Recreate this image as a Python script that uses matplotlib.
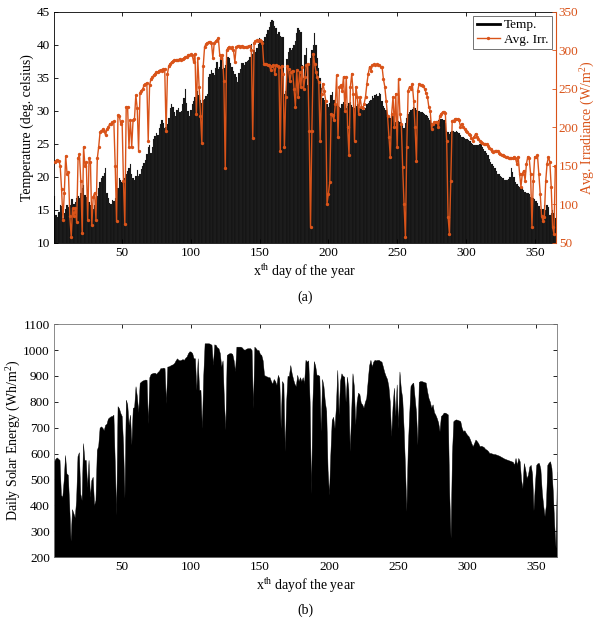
import numpy as np
import matplotlib
matplotlib.use("Agg")
import matplotlib.pyplot as plt
from matplotlib.lines import Line2D

plt.rcParams["font.family"] = ["Liberation Serif", "DejaVu Serif"]
plt.rcParams["mathtext.fontset"] = "custom"
plt.rcParams["mathtext.rm"] = "Liberation Serif"
plt.rcParams["mathtext.it"] = "Liberation Serif:italic"

days = np.arange(1, 366)

# daily mean temperature (deg C)
temp = [
    17.1, 14.2, 14.0, 14.7, 15.8, 15.6, 13.8, 14.5, 15.2, 15.8,
    15.5, 15.8, 16.6, 16.6, 15.9, 16.2, 16.8, 17.1, 16.8, 17.5,
    18.3, 18.8, 17.3, 17.0, 16.4, 16.2, 15.8, 15.6, 15.2, 15.8,
    16.2, 17.1, 18.3, 19.3, 19.8, 20.1, 20.6, 21.3, 17.5, 16.8,
    16.0, 15.9, 16.5, 16.4, 16.8, 17.4, 18.4, 19.9, 19.5, 19.2,
    18.9, 19.8, 20.4, 20.9, 21.4, 22.0, 20.5, 19.9, 19.6, 20.2,
    21.0, 20.1, 20.5, 21.2, 21.6, 22.1, 22.6, 23.5, 24.6, 24.8,
    23.6, 24.5, 25.7, 26.2, 26.7, 26.4, 27.4, 28.0, 28.7, 28.2,
    27.4, 27.6, 28.0, 29.0, 30.5, 31.0, 30.6, 29.8, 29.3, 30.2,
    30.4, 29.8, 30.0, 31.0, 32.0, 33.4, 31.2, 30.0, 29.3, 30.2,
    31.0, 31.5, 32.1, 32.5, 33.1, 32.4, 31.6, 31.2, 31.6, 31.8,
    32.2, 32.6, 35.2, 35.6, 36.2, 35.8, 35.5, 36.5, 37.4, 36.4,
    36.7, 37.9, 36.3, 36.5, 37.0, 37.6, 38.2, 38.0, 37.2, 36.6,
    36.0, 35.6, 35.2, 34.4, 35.8, 36.4, 37.2, 37.3, 37.0, 37.4,
    37.6, 37.8, 38.2, 40.2, 38.7, 39.2, 39.0, 39.6, 40.2, 41.0,
    40.5, 40.0, 40.6, 41.2, 41.6, 42.2, 42.7, 43.5, 43.8, 43.6,
    42.9, 42.5, 41.7, 41.9, 41.4, 41.2, 41.2, 32.6, 33.0, 37.9,
    39.0, 39.5, 39.2, 39.6, 40.0, 40.6, 41.8, 42.5, 42.3, 42.0,
    37.0, 35.0, 38.5, 39.5, 34.0, 37.0, 38.0, 39.2, 40.0, 41.8,
    40.0, 38.0, 36.5, 35.0, 33.5, 32.0, 31.6, 31.3, 31.0, 30.6,
    31.2, 32.4, 32.9, 31.6, 31.2, 31.0, 30.7, 30.6, 30.5, 31.0,
    31.4, 31.0, 30.5, 30.8, 31.2, 31.4, 30.9, 30.6, 30.5, 30.8,
    31.0, 30.7, 30.5, 30.3, 30.1, 30.1, 30.5, 31.0, 31.2, 31.5,
    31.7, 32.2, 32.0, 32.4, 32.6, 32.3, 32.7, 32.5, 31.5, 30.8,
    30.4, 30.1, 29.6, 29.2, 28.9, 29.1, 29.2, 28.8, 28.4, 28.6,
    28.5, 28.3, 28.1, 27.9, 27.4, 28.2, 29.0, 29.5, 29.8, 30.1,
    30.3, 30.6, 30.4, 30.1, 30.2, 30.0, 29.9, 29.8, 29.7, 29.5,
    29.4, 29.2, 29.0, 28.6, 28.2, 28.1, 28.0, 28.2, 28.4, 28.6,
    28.7, 28.8, 28.8, 28.6, 28.2, 27.0, 26.8, 26.5, 26.8, 27.0,
    26.9, 26.8, 26.9, 26.8, 26.6, 26.4, 26.1, 26.0, 25.9, 25.8,
    25.7, 25.6, 25.4, 25.2, 25.0, 24.9, 24.8, 24.8, 24.9, 25.0,
    25.0, 24.6, 24.3, 24.0, 23.6, 23.3, 22.8, 22.3, 22.0, 21.6,
    21.3, 20.9, 20.5, 20.4, 20.2, 20.0, 19.8, 19.6, 19.5, 19.6,
    19.7, 20.0, 21.3, 20.8, 20.0, 19.3, 19.0, 18.6, 18.5, 18.3,
    18.3, 18.0, 17.8, 17.6, 17.5, 17.4, 17.0, 16.8, 16.8, 16.6,
    16.4, 16.0, 15.6, 15.2, 14.9, 15.2, 15.8, 15.0, 15.8, 15.4,
    14.3, 14.5, 15.0, 14.5, 13.8,
]

# average irradiance (W/m^2)
irr = [
    155, 157, 158, 157, 150, 120, 80, 115, 163, 140,
    142, 85, 58, 95, 85, 95, 77, 160, 165, 130,
    63, 175, 150, 155, 80, 160, 155, 73, 110, 115,
    80, 160, 175, 194, 195, 198, 195, 190, 198, 200,
    205, 205, 207, 208, 150, 78, 216, 215, 205, 209,
    130, 75, 227, 227, 175, 210, 175, 210, 211, 242,
    225, 170, 245, 248, 250, 255, 256, 258, 183, 255,
    263, 265, 268, 270, 272, 272, 274, 275, 274, 276,
    276, 196, 270, 280, 283, 285, 286, 287, 287, 288,
    288, 289, 288, 289, 290, 291, 292, 294, 294, 295,
    294, 285, 296, 218, 290, 253, 215, 180, 280, 305,
    308, 310, 311, 311, 310, 290, 310, 312, 313, 316,
    294, 290, 294, 260, 147, 300, 303, 305, 303, 304,
    300, 285, 305, 306, 306, 305, 306, 305, 304, 305,
    305, 306, 306, 300, 186, 310, 312, 313, 312, 314,
    312, 310, 283, 282, 282, 281, 281, 275, 280, 281,
    270, 281, 280, 278, 170, 280, 270, 175, 240, 280,
    276, 260, 272, 274, 250, 227, 275, 240, 272, 253,
    279, 250, 266, 281, 283, 196, 71, 196, 296, 283,
    272, 265, 259, 183, 244, 257, 248, 235, 101, 114,
    129, 218, 216, 210, 230, 268, 188, 253, 255, 248,
    266, 222, 266, 200, 164, 253, 270, 244, 183, 253,
    240, 218, 240, 227, 225, 231, 240, 257, 270, 279,
    274, 281, 282, 281, 282, 281, 281, 279, 279, 263,
    253, 235, 215, 188, 162, 218, 240, 200, 244, 175,
    263, 218, 205, 149, 100, 58, 175, 248, 253, 250,
    257, 235, 200, 157, 248, 257, 255, 255, 254, 250,
    245, 240, 227, 222, 198, 205, 207, 207, 207, 200,
    215, 218, 220, 220, 219, 183, 84, 62, 131, 209,
    209, 211, 211, 211, 210, 201, 205, 200, 198, 196,
    194, 192, 190, 186, 183, 188, 192, 188, 185, 183,
    181, 180, 179, 179, 178, 176, 174, 172, 170, 168,
    169, 170, 170, 167, 165, 164, 164, 163, 162, 162,
    161, 160, 160, 160, 162, 160, 153, 162, 140, 123,
    140, 144, 131, 153, 162, 160, 140, 71, 131, 162,
    162, 164, 140, 114, 85, 79, 84, 130, 153, 162,
    155, 123, 71, 62, 150,
]

# daily solar energy (Wh/m^2)
energy = [
    570, 580, 585, 580, 575, 440, 432, 497, 594, 523,
    518, 400, 262, 385, 370, 353, 420, 590, 605, 445,
    420, 640, 575, 575, 470, 575, 432, 497, 510, 400,
    420, 614, 630, 700, 705, 700, 690, 711, 715, 735,
    740, 744, 745, 750, 560, 363, 783, 775, 757, 745,
    634, 428, 808, 790, 711, 750, 634, 776, 780, 860,
    820, 760, 873, 878, 882, 884, 886, 885, 716, 895,
    908, 910, 912, 912, 908, 915, 920, 930, 930, 932,
    930, 794, 936, 937, 940, 943, 945, 950, 960, 968,
    962, 960, 962, 965, 962, 970, 975, 988, 995, 994,
    988, 968, 968, 846, 968, 846, 846, 698, 900, 1026,
    1026, 1026, 1026, 1024, 1020, 942, 1022, 1020, 1010, 1007,
    988, 936, 960, 800, 692, 981, 985, 988, 988, 985,
    960, 918, 1013, 1013, 1013, 1013, 1010, 1003, 1001, 1005,
    1007, 1007, 1007, 1000, 775, 1013, 1007, 1000, 1000, 985,
    981, 960, 904, 900, 898, 895, 895, 880, 870, 888,
    880, 865, 904, 890, 698, 880, 870, 609, 800, 900,
    900, 942, 910, 888, 870, 860, 904, 880, 895, 880,
    895, 872, 962, 955, 960, 800, 445, 800, 957, 940,
    904, 904, 900, 686, 888, 860, 800, 764, 536, 440,
    600, 730, 742, 698, 780, 923, 750, 880, 910, 900,
    897, 800, 897, 850, 609, 750, 910, 860, 712, 800,
    835, 830, 796, 790, 777, 800, 815, 880, 940, 962,
    936, 955, 962, 960, 962, 962, 958, 955, 936, 915,
    900, 888, 860, 800, 667, 780, 854, 745, 867, 698,
    917, 850, 815, 698, 550, 377, 620, 745, 861, 870,
    874, 815, 760, 634, 877, 880, 880, 878, 876, 874,
    841, 815, 800, 777, 790, 760, 750, 737, 720, 686,
    745, 750, 758, 758, 755, 751, 450, 273, 600, 725,
    730, 732, 730, 728, 725, 700, 686, 690, 680, 672,
    667, 655, 640, 628, 640, 654, 648, 640, 628, 630,
    628, 625, 618, 615, 610, 602, 602, 600, 598, 598,
    596, 594, 592, 589, 586, 583, 580, 578, 576, 574,
    572, 570, 568, 556, 583, 556, 583, 570, 500, 466,
    563, 540, 505, 518, 550, 556, 520, 380, 480, 556,
    563, 563, 540, 453, 400, 358, 402, 556, 565, 570,
    544, 450, 325, 235, 530,
]

orange = "#D95319"
fs_tick = 9.5
fs_lab = 10

fig = plt.figure(figsize=(5.98, 6.21), dpi=100)

# ---- (a) temperature + irradiance
ax1 = fig.add_axes([0.0903, 0.6087, 0.8395, 0.372])
ax1.bar(days, temp, width=1.0, color="#111111", edgecolor="#4a4a4a", linewidth=0.1)
ax1.set_xlim(0.5, 365.5)
ax1.set_ylim(10, 45)
ax1.set_yticks(np.arange(10, 46, 5))
ax1.set_xticks(np.arange(50, 351, 50))
ax1.set_ylabel("Temperature (deg. celsius)", fontsize=fs_lab, labelpad=2)
ax1.set_xlabel("x$^{\\mathrm{th}}$ day of the year", fontsize=fs_lab, labelpad=2)
ax1.tick_params(direction="in", labelsize=fs_tick, top=True, length=3, width=0.6, pad=3)

ax2 = ax1.twinx()
ax2.plot(days, irr, color=orange, lw=1.0, marker="o", ms=1.4)
ax2.set_ylim(50, 350)
ax2.set_yticks(np.arange(50, 351, 50))
ax2.set_ylabel("Avg. Irradiance (W/m$^2$)", color=orange, fontsize=fs_lab, labelpad=0)
ax2.tick_params(direction="in", labelsize=fs_tick, colors=orange, length=3, width=0.6, pad=2)
ax2.spines["right"].set_color(orange)
for sp in ["left", "top", "bottom"]:
    ax1.spines[sp].set_linewidth(0.6)
    ax2.spines[sp].set_visible(False)
ax1.spines["right"].set_visible(False)

handles = [Line2D([], [], color="k", lw=2),
           Line2D([], [], color=orange, lw=1.0, marker="o", ms=1.4)]
leg = ax2.legend(handles, ["Temp.", "Avg. Irr."], loc="upper right", fontsize=fs_tick,
                 frameon=True, fancybox=False, edgecolor="#333333",
                 handlelength=1.8, handletextpad=0.3, borderpad=0.25,
                 labelspacing=0.15, borderaxespad=0.3)
leg.get_frame().set_linewidth(0.6)

fig.text(0.5 * (0.0903 * 2 + 0.8395), 1 - 297 / 621, "(a)", ha="center", va="center",
         fontsize=fs_lab)

# ---- (b) daily solar energy
ax3 = fig.add_axes([0.0903, 0.103, 0.8411, 0.375])
ax3.fill_between(days, energy, 0, color="black", linewidth=0.3, edgecolor="black")
ax3.set_xlim(1, 365)
ax3.set_ylim(200, 1100)
ax3.set_yticks(np.arange(200, 1101, 100))
ax3.set_xticks(np.arange(50, 351, 50))
ax3.set_ylabel("Daily Solar Energy (Wh/m$^2$)", fontsize=fs_lab, labelpad=0)
ax3.set_xlabel("x$^{\\mathrm{th}}$ dayof the year", fontsize=fs_lab, labelpad=2)
ax3.tick_params(direction="in", labelsize=fs_tick, top=True, right=True, length=3,
                width=0.6, pad=3)
for sp in ax3.spines.values():
    sp.set_linewidth(0.6)
    sp.set_color("#777777")

fig.text(0.5 * (0.0903 * 2 + 0.8411), 1 - 610 / 621, "(b)", ha="center", va="center",
         fontsize=fs_lab)

fig.savefig("out.png", dpi=100)
